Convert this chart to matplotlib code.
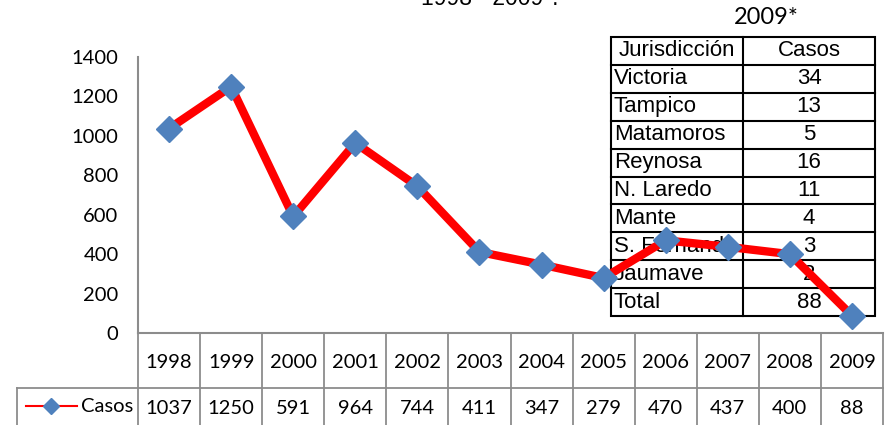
import matplotlib
matplotlib.use("Agg")
import matplotlib.pyplot as plt
from matplotlib.lines import Line2D
from matplotlib.patches import Rectangle

years = ["1998", "1999", "2000", "2001", "2002", "2003", "2004", "2005", "2006", "2007", "2008", "2009"]
casos = [1037, 1250, 591, 964, 744, 411, 347, 279, 470, 437, 400, 88]
series_name = "Casos"
yticks = [0, 200, 400, 600, 800, 1000, 1200, 1400]
title_text = "1998 - 2009*."
inset_title = "2009*"
inset_header = ["Jurisdicción", "Casos"]
jurisdicciones = ["Victoria", "Tampico", "Matamoros", "Reynosa", "N. Laredo", "Mante", "S. Fernando", "Jaumave", "Total"]
casos_2009 = [34, 13, 5, 16, 11, 4, 3, 2, 88]

W, H = 892, 425
fig = plt.figure(figsize=(W / 100, H / 100), dpi=100)
fig.patch.set_facecolor("white")

def fx(px):
    return px / W

def fy(py):
    return 1 - py / H

CAL = ["Lato", "DejaVu Sans"]
ARI = ["Liberation Sans", "DejaVu Sans"]

# main axes
ax_l, ax_r, ax_t, ax_b = 138, 883, 57, 333
ax = fig.add_axes([fx(ax_l), fy(ax_b), fx(ax_r - ax_l), (ax_b - ax_t) / H])
ax.patch.set_alpha(0)
n = len(years)
x = list(range(n))
ax.plot(x, casos, color="#FF0000", lw=6, marker="D", ms=13.5,
        markerfacecolor="#4F81BD", markeredgecolor="#4F81BD", zorder=3,
        clip_on=False, solid_joinstyle="miter")
ax.set_xlim(-0.5, n - 0.5)
ax.set_ylim(0, 1400)
ax.set_yticks(yticks)
ax.set_yticklabels([str(v) for v in yticks], fontfamily=CAL, fontsize=14.5)
ax.set_xticks([])
ax.tick_params(axis="y", length=0, pad=14, colors="#000000")
for s in ["top", "right"]:
    ax.spines[s].set_visible(False)
ax.spines["left"].set_color("#8C8C8C")
ax.spines["left"].set_linewidth(1.5)
ax.spines["bottom"].set_color("#8C8C8C")
ax.spines["bottom"].set_linewidth(1.5)

# data table below the axes (x in data units, y in axes fraction)
tr = ax.get_xaxis_transform()
ah = ax_b - ax_t
def ay(py):
    return (ax_b - py) / ah

grid_c = "#8C8C8C"
row1_top, row1_bot, row2_bot = 333, 388, 430
for i in range(n + 1):
    ax.add_line(Line2D([i - 0.5, i - 0.5], [ay(row1_top), ay(row2_bot)], transform=tr,
                       color=grid_c, lw=1.3, clip_on=False))
x_leg_left = -0.5 - (ax_l - 17) / ((ax_r - ax_l) / n)
ax.add_line(Line2D([x_leg_left, n - 0.5], [ay(row1_bot), ay(row1_bot)], transform=tr,
                   color=grid_c, lw=1.3, clip_on=False))
ax.add_line(Line2D([x_leg_left, x_leg_left], [ay(row1_bot), ay(row2_bot)], transform=tr,
                   color=grid_c, lw=1.3, clip_on=False))
for i, (yr, v) in enumerate(zip(years, casos)):
    ax.text(i, ay(362), yr, transform=tr, ha="center", va="center",
            fontfamily=CAL, fontsize=14.5, clip_on=False)
    ax.text(i, ay(408), str(v), transform=tr, ha="center", va="center",
            fontfamily=CAL, fontsize=14.5, clip_on=False)

# legend key in table
fig.add_artist(Line2D([fx(26), fx(77)], [fy(406), fy(406)], color="#FF0000", lw=1.5))
fig.add_artist(Line2D([fx(51)], [fy(406)], marker="D", ms=8, color="#4F81BD", lw=0))
fig.text(fx(81), fy(407), series_name, ha="left", va="center", fontfamily=CAL, fontsize=14.5)

# top title (partially cut, as in the reference)
fig.text(fx(490), fy(5), title_text, ha="center", va="baseline", fontfamily=ARI, fontsize=16.5)

# inset table (drawn beneath the line)
t_l, t_m, t_r, t_t, t_b = 611, 743, 875, 37, 316
nrows = len(jurisdicciones) + 1
rh = (t_b - t_t) / nrows
fig.add_artist(Rectangle((fx(t_l), fy(t_b)), fx(t_r - t_l), (t_b - t_t) / H,
                         facecolor="white", edgecolor="black", lw=1.5, zorder=-2))
for k in range(1, nrows):
    yy = t_t + k * rh
    fig.add_artist(Line2D([fx(t_l), fx(t_r)], [fy(yy), fy(yy)], color="black", lw=1.5, zorder=-1))
fig.add_artist(Line2D([fx(t_m), fx(t_m)], [fy(t_t), fy(t_b)], color="black", lw=1.5, zorder=-1))
fs_in = 16
fig.text(fx((t_l + t_m) / 2), fy(t_t + rh / 2), inset_header[0], ha="center", va="center",
         fontfamily=ARI, fontsize=fs_in, zorder=-1)
fig.text(fx((t_m + t_r) / 2), fy(t_t + rh / 2), inset_header[1], ha="center", va="center",
         fontfamily=ARI, fontsize=fs_in, zorder=-1)
for k, (name, v) in enumerate(zip(jurisdicciones, casos_2009)):
    yc = t_t + (k + 1.5) * rh
    fig.text(fx(t_l + 3), fy(yc), name, ha="left", va="center",
             fontfamily=ARI, fontsize=fs_in, zorder=-1)
    fig.text(fx((t_m + t_r) / 2), fy(yc), str(v), ha="center", va="center",
             fontfamily=ARI, fontsize=fs_in, zorder=-1)
fig.text(fx(766), fy(18), inset_title, ha="center", va="center", fontfamily=CAL, fontsize=17)

fig.savefig("out.png", dpi=100, facecolor="white")
